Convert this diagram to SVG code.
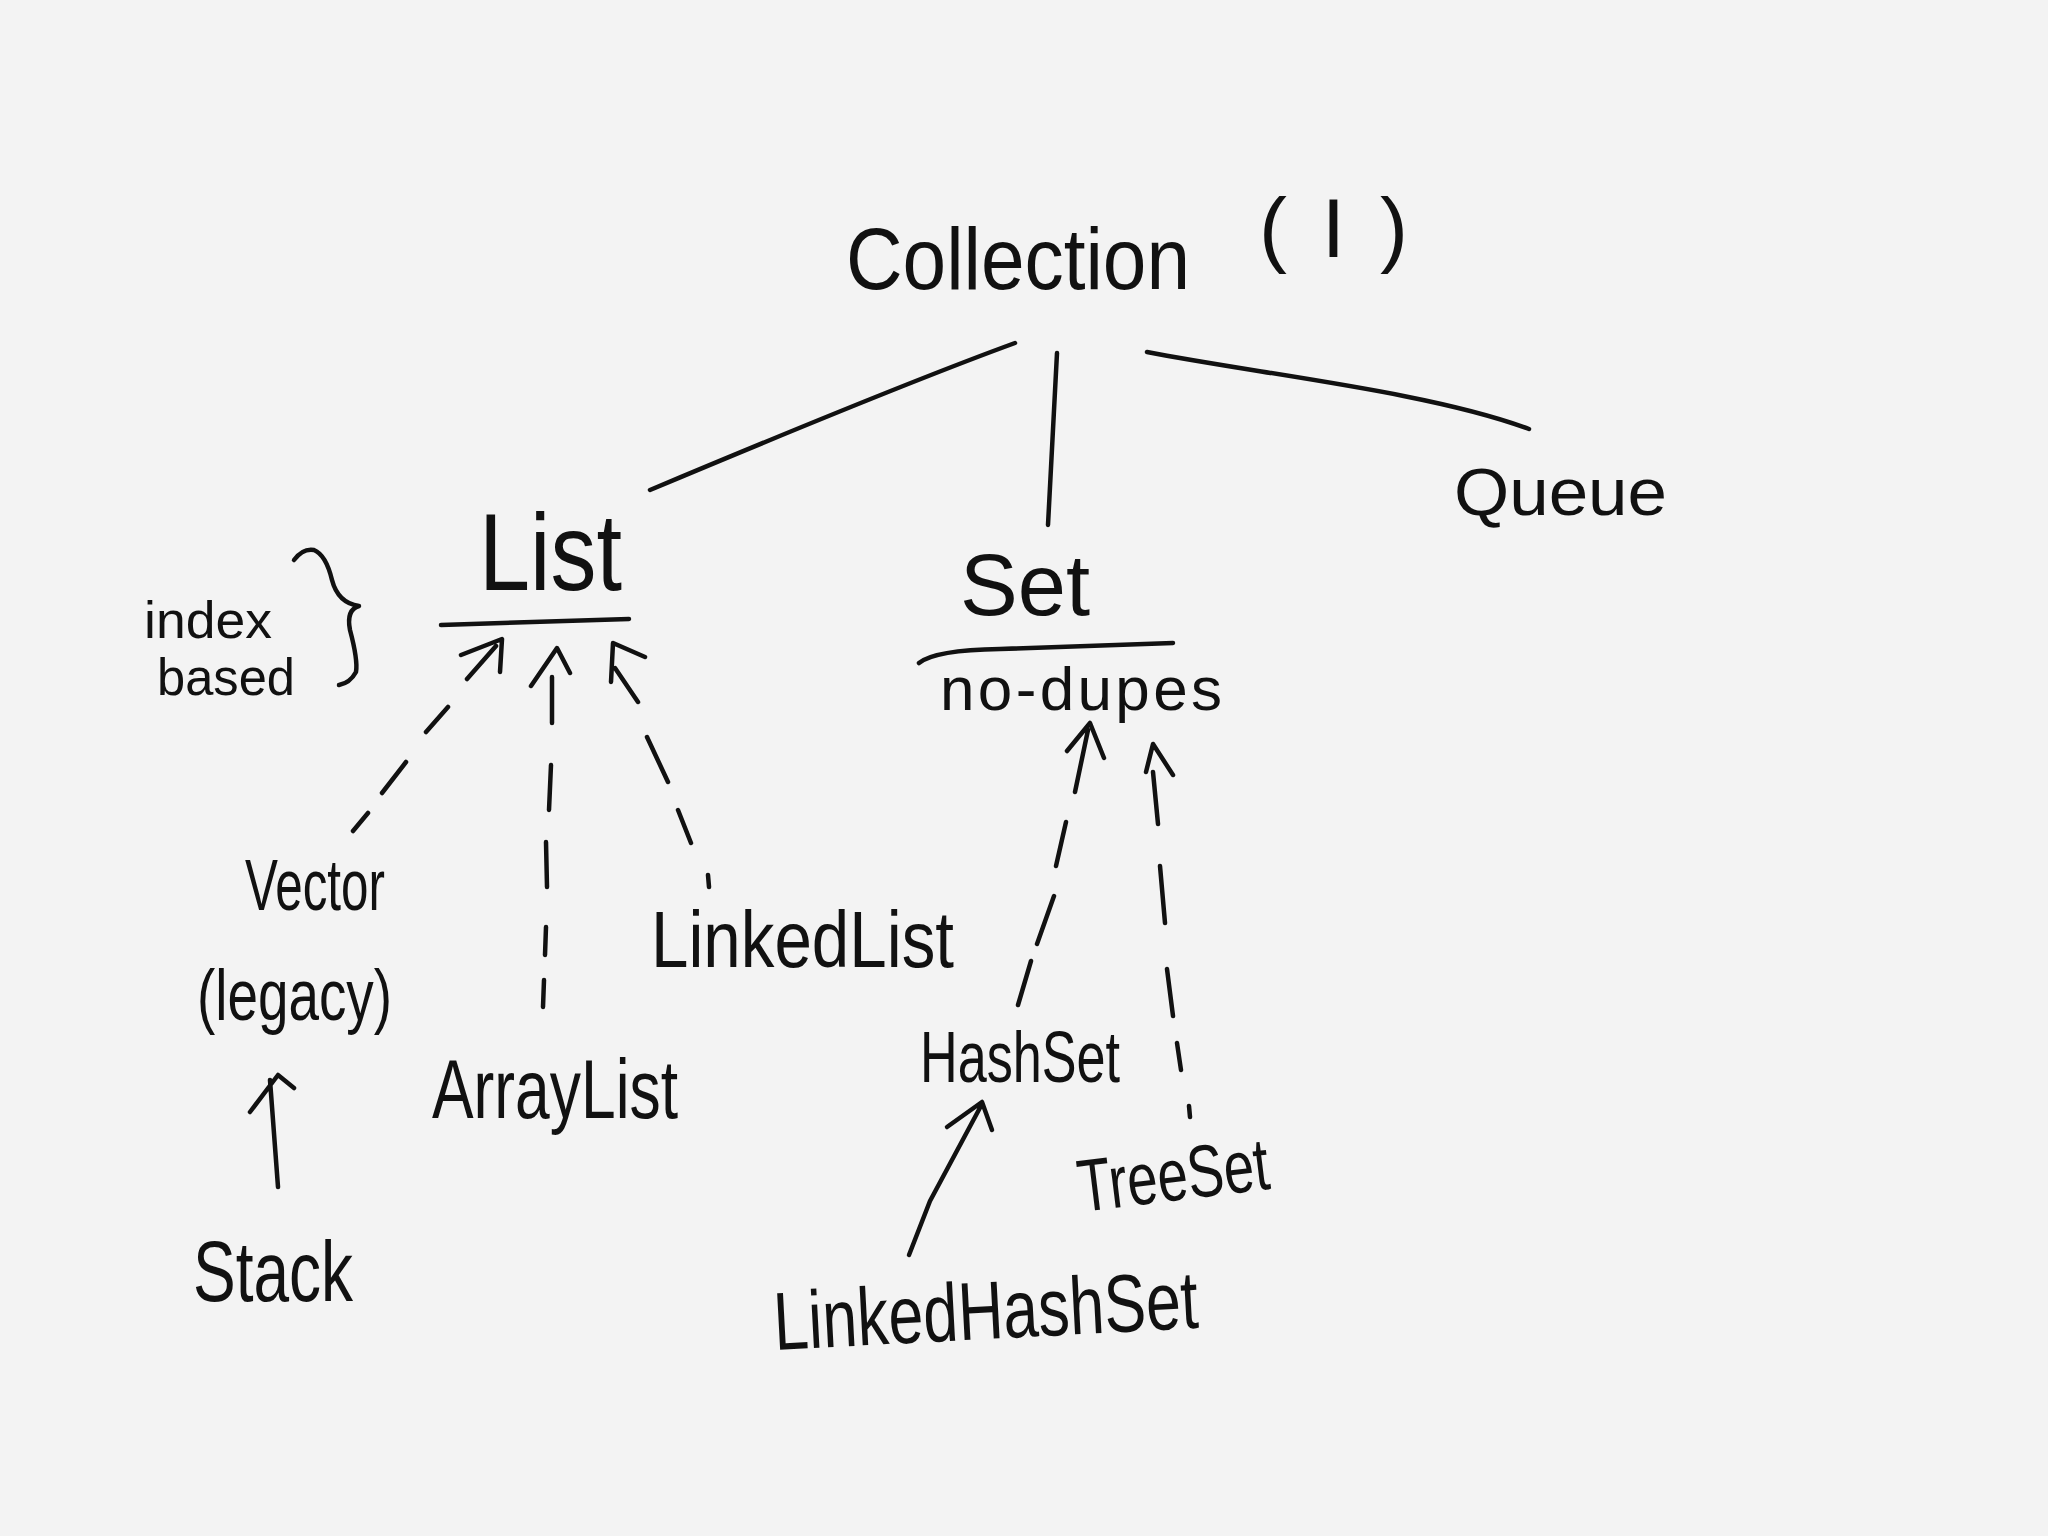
<svg xmlns="http://www.w3.org/2000/svg" width="2048" height="1536" viewBox="0 0 2048 1536">
<style>
text{font-family:"Liberation Sans",Arial,sans-serif;fill:#111;}
.ln{fill:none;stroke:#111;stroke-width:4.5;stroke-linecap:round;stroke-linejoin:round;}
</style>
<rect width="2048" height="1536" fill="#f3f3f3"/>
<g id="node-collection">
<text x="846" y="289" font-size="88" textLength="344" lengthAdjust="spacingAndGlyphs">Collection</text>
<text x="1259" y="257" font-size="84" textLength="149" lengthAdjust="spacing">(I)</text>
</g>
<g id="node-list">
<text x="479" y="590" font-size="110" textLength="143" lengthAdjust="spacingAndGlyphs">List</text>
<path class="ln" d="M441,625 L629,619"/>
</g>
<g id="note-index">
<text x="144" y="638" font-size="52" textLength="128" lengthAdjust="spacingAndGlyphs">index</text>
<text x="157" y="695" font-size="52" textLength="138" lengthAdjust="spacingAndGlyphs">based</text>
<path class="ln" d="M294,560 Q303,548 314,550 Q326,555 332,580 Q338,603 359,606 Q346,610 350,630 Q358,660 356,672 Q350,683 339,685"/>
</g>
<g id="node-set">
<text x="960" y="615" font-size="88" textLength="130" lengthAdjust="spacingAndGlyphs">Set</text>
<path class="ln" d="M919,663 Q935,650 1000,649 L1173,643"/>
<text x="940" y="710" font-size="62" textLength="282" lengthAdjust="spacing">no-dupes</text>
</g>
<g id="node-queue">
<text x="1454" y="515" font-size="66" textLength="213" lengthAdjust="spacingAndGlyphs">Queue</text>
</g>
<g id="node-vector">
<text x="245" y="910" font-size="72" textLength="140" lengthAdjust="spacingAndGlyphs">Vector</text>
<text x="197" y="1020" font-size="72" textLength="195" lengthAdjust="spacingAndGlyphs">(legacy)</text>
</g>
<g id="node-stack">
<text x="193" y="1301" font-size="86" textLength="160" lengthAdjust="spacingAndGlyphs">Stack</text>
</g>
<g id="node-arraylist">
<text x="432" y="1118" font-size="84" textLength="246" lengthAdjust="spacingAndGlyphs">ArrayList</text>
</g>
<g id="node-linkedlist">
<text x="651" y="967" font-size="80" textLength="303" lengthAdjust="spacingAndGlyphs">LinkedList</text>
</g>
<g id="node-hashset">
<text x="920" y="1082" font-size="72" textLength="200" lengthAdjust="spacingAndGlyphs">HashSet</text>
</g>
<g id="node-treeset">
<text x="1081" y="1212" font-size="74" textLength="192" lengthAdjust="spacingAndGlyphs" transform="rotate(-7 1081 1212)">TreeSet</text>
</g>
<g id="node-linkedhashset">
<text x="775" y="1350" font-size="82" textLength="425" lengthAdjust="spacingAndGlyphs" transform="rotate(-3 775 1350)">LinkedHashSet</text>
</g>
<g id="connectors">
<path class="ln" d="M1015,343 Q900,385 650,490"/>
<path class="ln" d="M1057,353 L1048,525"/>
<path class="ln" d="M1147,352 C1260,374 1430,392 1529,429"/>
<!-- Vector -> List -->
<path class="ln" d="M461,655 L502,639 L500,672 M467,679 L496,646 M448,707 L426,732 M406,762 L382,793 M368,813 L353,831"/>
<!-- ArrayList -> List -->
<path class="ln" d="M531,686 L557,648 L570,673 M552,723 L552,677 M551,765 L549,810 M546,842 L547,887 M546,927 L545,955 M544,980 L543,1007"/>
<!-- LinkedList -> List -->
<path class="ln" d="M611,682 L613,643 L645,657 M638,702 L615,668 M647,737 L668,782 M678,810 L691,843 M708,875 L709,887"/>
<!-- Stack -> Vector -->
<path class="ln" d="M278,1187 L270,1080 M250,1112 L278,1075 L294,1088"/>
<!-- HashSet -> Set -->
<path class="ln" d="M1067,751 L1090,723 L1104,758 M1075,792 L1088,730 M1066,822 L1056,866 M1054,896 L1037,944 M1031,961 L1018,1005"/>
<!-- TreeSet -> Set -->
<path class="ln" d="M1146,772 L1153,744 L1173,775 M1158,824 L1153,772 M1160,866 L1165,923 M1167,969 L1173,1016 M1177,1043 L1181,1070 M1189,1106 L1190,1117"/>
<!-- LinkedHashSet -> HashSet -->
<path class="ln" d="M909,1255 L930,1201 L982,1104 M947,1127 L982,1102 L992,1130"/>
</g>
</svg>
